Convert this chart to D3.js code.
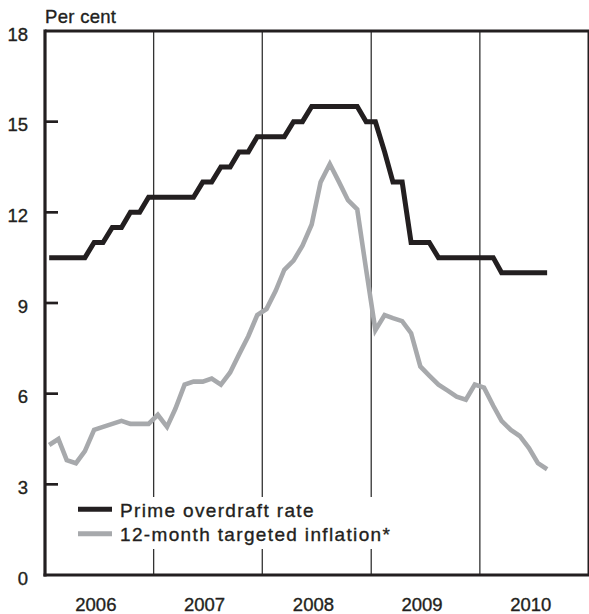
<!DOCTYPE html>
<html>
<head>
<meta charset="utf-8">
<script src="https://cdn.jsdelivr.net/npm/d3@7"></script>
<style>
  html, body { margin: 0; padding: 0; background: #fff; }
  svg { display: block; font-family: "Liberation Sans", Arial, Helvetica, sans-serif; }
  text { stroke: #231f20; stroke-width: 0.35px; }
</style>
</head>
<body>
<svg id="chart" width="589" height="614"></svg>
<script>
// ---- Data (monthly, Jan 2006 – Aug 2010) ----
const startYear = 2006;
const primeRate = [
  10.5, 10.5, 10.5, 10.5, 10.5, 11, 11, 11.5, 11.5, 12, 12, 12.5,
  12.5, 12.5, 12.5, 12.5, 12.5, 13, 13, 13.5, 13.5, 14, 14, 14.5,
  14.5, 14.5, 14.5, 15, 15, 15.5, 15.5, 15.5, 15.5, 15.5, 15.5, 15,
  15, 14, 13, 13, 11, 11, 11, 10.5, 10.5, 10.5, 10.5, 10.5,
  10.5, 10.5, 10, 10, 10, 10, 10, 10
];
const inflation = [
  4.3, 4.5, 3.8, 3.7, 4.1, 4.8, 4.9, 5.0, 5.1, 5.0, 5.0, 5.0,
  5.3, 4.9, 5.5, 6.3, 6.4, 6.4, 6.5, 6.3, 6.7, 7.3, 7.9, 8.6,
  8.8, 9.4, 10.1, 10.4, 10.9, 11.6, 13.0, 13.6, 13.0, 12.4, 12.1, 10.1,
  8.1, 8.6, 8.5, 8.4, 8.0, 6.9, 6.6, 6.3, 6.1, 5.9, 5.8, 6.3,
  6.2, 5.6, 5.1, 4.8, 4.6, 4.2, 3.7, 3.5
];
const yTicks = [0, 3, 6, 9, 12, 15, 18];
const yearLabels = ["2006", "2007", "2008", "2009", "2010"];
const seriesNames = ["Prime overdraft rate", "12-month targeted inflation*"];
const seriesColors = ["#231f20", "#a7a9ac"];
const unitLabel = "Per cent";

// ---- Layout ----
const svg = d3.select("#chart");
const mLeft = 45, mRight = 588.5, mTop = 31, mBottom = 575;

const x = d3.scaleTime()
  .domain([new Date(startYear, 0, 1), new Date(startYear + yearLabels.length, 0, 1)])
  .range([mLeft, mRight]);
const y = d3.scaleLinear().domain([0, 18]).range([mBottom, mTop]);

const dateOf = i => new Date(startYear, i, 15);

// Year separator lines
const yearStarts = yearLabels.slice(1).map((_, k) => new Date(startYear + k + 1, 0, 1));
svg.append("g").selectAll("line").data(yearStarts).join("line")
  .attr("x1", d => x(d)).attr("x2", d => x(d))
  .attr("y1", mTop).attr("y2", mBottom)
  .attr("stroke", "#333").attr("stroke-width", 1.3);

// Frame top and right
svg.append("line").attr("x1", mLeft).attr("x2", mRight + 1).attr("y1", mTop).attr("y2", mTop)
  .attr("stroke", "#231f20").attr("stroke-width", 3);
svg.append("line").attr("x1", mRight).attr("x2", mRight).attr("y1", mTop).attr("y2", mBottom)
  .attr("stroke", "#231f20").attr("stroke-width", 2);

// Legend group (white background interrupts separators)
const legendG = svg.append("g");

// Lines
const line = d3.line().x((d, i) => x(dateOf(i))).y(d => y(d));
svg.append("path").datum(inflation)
  .attr("d", line).attr("fill", "none")
  .attr("stroke", seriesColors[1]).attr("stroke-width", 4.6)
  .attr("stroke-linejoin", "miter");
svg.append("path").datum(primeRate)
  .attr("d", line).attr("fill", "none")
  .attr("stroke", seriesColors[0]).attr("stroke-width", 5)
  .attr("stroke-linejoin", "miter");

// Y axis
const yAxis = d3.axisLeft(y).tickValues(yTicks).tickSize(0).tickPadding(17);
const yg = svg.append("g").attr("transform", `translate(${mLeft},0)`).call(yAxis);
yg.select(".domain").remove();
yg.selectAll("text").attr("font-size", 18.5).attr("fill", "#231f20")
  .attr("font-family", "Liberation Sans, Arial, sans-serif")
  .attr("dy", "0.5em");
// Inward ticks
svg.append("g").selectAll("line").data(yTicks.filter(t => t > 0 && t < 18)).join("line")
  .attr("x1", mLeft).attr("x2", mLeft + 13)
  .attr("y1", d => y(d)).attr("y2", d => y(d))
  .attr("stroke", "#231f20").attr("stroke-width", 2.7);

// Left & bottom axis lines
svg.append("line").attr("x1", mLeft).attr("x2", mLeft).attr("y1", mTop - 1.5).attr("y2", mBottom + 1.5)
  .attr("stroke", "#231f20").attr("stroke-width", 3.2);
svg.append("line").attr("x1", mLeft - 1.5).attr("x2", mRight + 1).attr("y1", mBottom).attr("y2", mBottom)
  .attr("stroke", "#231f20").attr("stroke-width", 3.2);

// Year labels
svg.append("g").selectAll("text").data(yearLabels).join("text")
  .attr("x", (d, k) => x(new Date(startYear + k, 6, 1)) - 3)
  .attr("y", 611)
  .attr("text-anchor", "middle")
  .attr("font-size", 18.5).attr("fill", "#231f20")
  .text(d => d);

// Unit label
svg.append("text").attr("x", mLeft).attr("y", 23)
  .attr("font-size", 18.5).attr("letter-spacing", 0.3).attr("fill", "#231f20")
  .text(unitLabel);

// Legend
legendG.append("rect").attr("x", 70).attr("y", 497).attr("width", 330).attr("height", 52)
  .attr("fill", "#fff");
const legendItems = legendG.selectAll("g.item").data(seriesNames).join("g")
  .attr("class", "item")
  .attr("transform", (d, i) => `translate(78, ${509.3 + i * 24.5})`);
legendItems.append("line").attr("x1", 0).attr("x2", 34).attr("y1", 0).attr("y2", 0)
  .attr("stroke", (d, i) => seriesColors[i]).attr("stroke-width", 5);
legendItems.append("text").attr("x", 42).attr("y", 7.5)
  .attr("font-size", 19).attr("letter-spacing", 1.35).attr("fill", "#231f20")
  .text(d => d);
</script>
</body>
</html>
